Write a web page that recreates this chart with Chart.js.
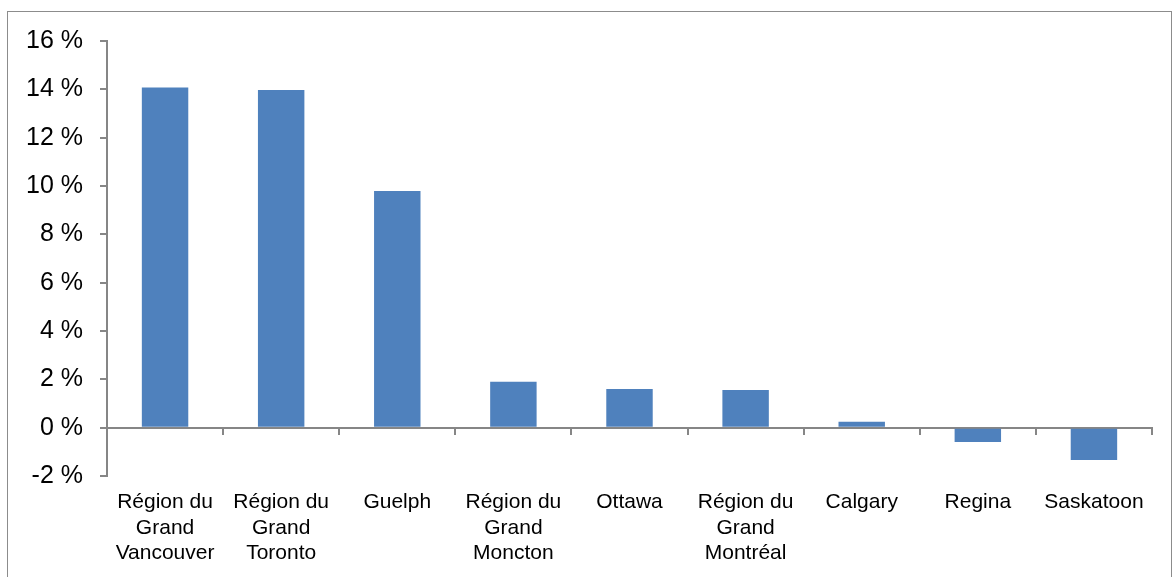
<!DOCTYPE html>
<html>
<head>
<meta charset="utf-8">
<script src="https://cdn.jsdelivr.net/npm/chart.js@4.4.1/dist/chart.umd.min.js"></script>
<style>
    body { margin: 0; background: #fff; }
    #wrap { position: relative; width: 1175px; height: 577px; overflow: hidden; }
    #frame { position: absolute; left: 7px; top: 11px; width: 1165px; height: 600px; border: 1px solid #8c8c8c; box-sizing: border-box; }
    canvas { position: absolute; left: 0; top: 0; }
</style>
</head>
<body>
<div id="wrap">
    <div id="frame"></div>
    <canvas id="growthChart" width="1175" height="577"></canvas>
</div>
<script>
const cities = [
    ["Région du", "Grand", "Vancouver"],
    ["Région du", "Grand", "Toronto"],
    "Guelph",
    ["Région du", "Grand", "Moncton"],
    "Ottawa",
    ["Région du", "Grand", "Montréal"],
    "Calgary",
    "Regina",
    "Saskatoon"
];
const growth = [14.08, 13.97, 9.79, 1.9, 1.6, 1.56, 0.24, -0.59, -1.34];
const yMin = -2;
const yMax = 16;
const yStep = 2;

const axisGray = "#868686";

const ctx = document.getElementById("growthChart").getContext("2d");

new Chart(ctx, {
    type: "bar",
    data: {
        labels: cities,
        datasets: [{
            data: growth,
            backgroundColor: "#4F81BD",
            borderWidth: 0,
            barPercentage: 0.4,
            categoryPercentage: 1.0,
            xAxisID: "x",
            yAxisID: "y"
        }]
    },
    options: {
        responsive: false,
        animation: false,
        layout: {
            padding: { top: 41, right: 23, bottom: 0, left: 0 }
        },
        plugins: {
            legend: { display: false },
            tooltip: { enabled: false }
        },
        scales: {
            x: {
                position: "bottom",
                offset: true,
                border: { display: false },
                grid: { display: false, drawTicks: false },
                ticks: {
                    color: "#000",
                    padding: 14,
                    maxRotation: 0,
                    autoSkip: false,
                    font: { family: "'Liberation Sans', Arial, sans-serif", size: 21, lineHeight: 1.2 }
                },
                afterFit: scale => { scale.height = 101; }
            },
            // zero line with tick marks between categories
            x2: {
                type: "category",
                position: { y: 0 },
                offset: true,
                border: { display: true, color: axisGray, width: 2 },
                grid: {
                    display: true,
                    offset: true,
                    drawOnChartArea: false,
                    drawTicks: true,
                    tickLength: 6,
                    color: axisGray,
                    lineWidth: 2
                },
                ticks: { display: false }
            },
            y: {
                min: yMin,
                max: yMax,
                border: { display: true, color: axisGray, width: 2 },
                grid: {
                    drawOnChartArea: false,
                    drawTicks: true,
                    tickLength: 7,
                    color: axisGray,
                    lineWidth: 2
                },
                ticks: {
                    stepSize: yStep,
                    color: "#000",
                    padding: 17,
                    font: { family: "'Liberation Sans', Arial, sans-serif", size: 25 },
                    callback: v => v + " %"
                },
                afterFit: scale => { scale.width = 107; }
            }
        }
    }
});
</script>
</body>
</html>
